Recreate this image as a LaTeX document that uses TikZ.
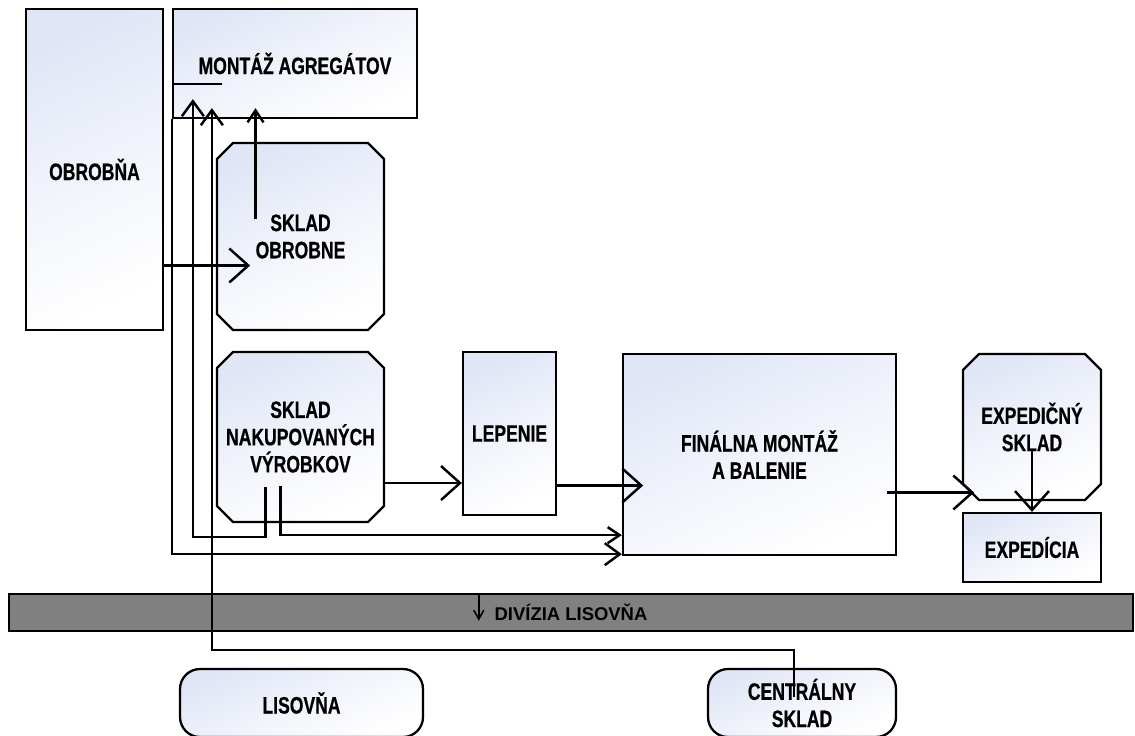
\documentclass[tikz,border=0pt]{standalone}
\usepackage{fontspec}
\usepackage{tikz}
\usetikzlibrary{positioning, calc, shapes.misc, arrows.meta}
\setmainfont{Liberation Sans}[FakeStretch=0.74, BoldFeatures={FakeBold=0.6}]
\newfontfamily\bandFamily{Liberation Sans}
\newcommand{\unitFont}{\fontsize{13.5}{15.5}\selectfont\bfseries}
\newcommand{\bandFont}{\bandFamily\fontsize{10.5}{12}\selectfont\bfseries}
\definecolor{boxBlue}{RGB}{224,230,246}
\definecolor{bandGray}{RGB}{128,128,128}
\tikzstyle{plan} = [x = 0.02cm, y = -0.02cm]
\tikzstyle{unitStyle} = [draw, line width = 1.3pt, top color = boxBlue, bottom color = white, middle color = boxBlue!45!white, shading angle = 25, inner sep = 0pt, align = center, font = \unitFont]
\tikzstyle{storeStyle} = [unitStyle, chamfered rectangle, chamfered rectangle xsep = .16cm, chamfered rectangle ysep = .16cm]
\tikzstyle{roundStyle} = [unitStyle, rounded corners = .4cm]
\tikzstyle{bandStyle} = [draw, line width = 1.4pt, fill = bandGray, inner sep = 0pt, font = \bandFont]
\tikzstyle{flowLine} = [line width = 1.4pt]
\tikzstyle{bigArrow} = [flowLine, -{Straight Barb[length = .38cm, width = .68cm]}]
\tikzstyle{midArrow} = [flowLine, -{Straight Barb[length = .3cm, width = .44cm]}]
\tikzstyle{smallArrow} = [flowLine, -{Straight Barb[length = .24cm, width = .32cm]}]
\tikzstyle{tinyArrow} = [line width = .9pt, -{Straight Barb[length = .18cm, width = .2cm]}]
% box from corner (x1,y1) to corner (x2,y2), in pixels
\newcommand{\plantBox}[7]{\node [#1, minimum width = {(#5 - #3) * 0.02cm}, minimum height = {(#6 - #4) * 0.02cm}] (#2) at ({(#3 + #5) / 2}, {(#4 + #6) / 2}) {#7};}

\begin{document}
\begin{tikzpicture}[plan]
  \clip (0,0) rectangle (1135,735);

  \plantBox{unitStyle}{obrobna}{26}{9}{163}{330}{OBROBŇA}
  \plantBox{unitStyle}{montaz}{173}{9}{417}{118}{MONTÁŽ AGREGÁTOV}
  \plantBox{storeStyle}{skladObr}{217}{143}{384}{330}{SKLAD\\OBROBNE}
  \plantBox{storeStyle}{skladNak}{217}{352}{384}{522}{SKLAD\\NAKUPOVANÝCH\\VÝROBKOV}
  \plantBox{unitStyle}{lepenie}{463}{352}{556}{515}{LEPENIE}
  \plantBox{unitStyle}{finalna}{623}{354}{896}{555}{FINÁLNA MONTÁŽ\\A BALENIE}
  \plantBox{storeStyle}{expSklad}{963}{354}{1101}{500}{EXPEDIČNÝ\\SKLAD}
  \plantBox{unitStyle}{expedicia}{963}{513}{1101}{582}{EXPEDÍCIA}
  \plantBox{bandStyle}{divizia}{9}{594}{1133}{631}{DIVÍZIA LISOVŇA}
  \plantBox{roundStyle}{lisovna}{180}{669}{423}{737}{LISOVŇA}
  \plantBox{roundStyle}{centralny}{708}{669}{896}{737}{CENTRÁLNY\\SKLAD}

  \coordinate (obrOut) at ($(skladObr.center)+(-45,-18)$);
  \coordinate (nakOutA) at ($(skladNak.center)+(-35,50)$);
  \coordinate (nakOutB) at ($(skladNak.center)+(-20,49)$);
  \coordinate (nakToLep) at ($(skladNak.east)+(0,46)$);
  \coordinate (lepToFin) at ($(lepenie.east)+(0,52)$);
  \coordinate (finToExp) at ($(finalna.east)+(-10,38)$);
  \coordinate (expOut) at ($(expSklad.center)+(0,23)$);
  \coordinate (centralOut) at ($(centralny.center)+(-8,-6)$);

  % flows
  \draw [bigArrow] ($(obrobna.east)+(0,96)$) -- ++(86,0);
  \draw [smallArrow] (obrOut) -- ($(obrOut |- montaz.south)+(0,-11)$);
  \draw [midArrow] (nakOutA) -- ++(0,50) -| ($(montaz.south west)+(21,-20)$);
  \draw [flowLine] ($(montaz.south west)+(0,-35)$) -- ++(50,0);
  \draw [midArrow] (montaz.south west) |- ($(finalna.south west)+(0,-2)$);
  \draw [smallArrow] (nakOutB) |- ($(finalna.south west)+(0,-21)$);
  \draw [bigArrow] (nakToLep) -- (nakToLep -| lepenie.west);
  \draw [bigArrow] (lepToFin) -- ++(86,0);
  \draw [bigArrow] (finToExp) -- ++(87,0);
  \draw [bigArrow] (expOut) -- (expedicia.north);
  \draw [midArrow] (centralOut) -- ++(0,-47) -| ($(montaz.south west)+(40,-11)$);
  \draw [tinyArrow] ($(divizia.north west)+(471,1)$) -- ++(0,27);
\end{tikzpicture}
\end{document}
